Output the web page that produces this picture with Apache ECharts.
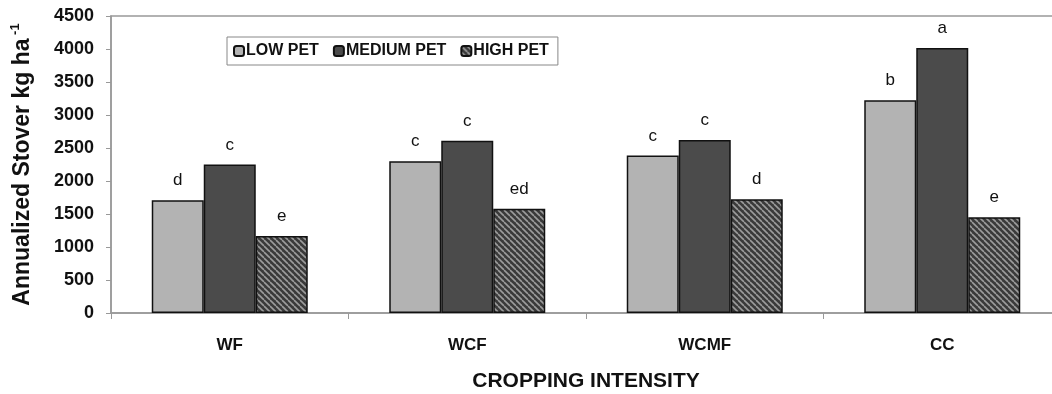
<!DOCTYPE html>
<html><head><meta charset="utf-8">
<script src="https://cdn.jsdelivr.net/npm/echarts@6/dist/echarts.min.js"></script>
<style>html,body{margin:0;padding:0;background:#fff}#c{width:1052px;height:394px}</style>
</head><body><div id="c"></div>
<script>
var categories = ['WF', 'WCF', 'WCMF', 'CC'];
var seriesNames = ['LOW PET', 'MEDIUM PET', 'HIGH PET'];
var lowPet = [1710, 2300, 2385, 3225];
var mediumPet = [2250, 2610, 2620, 4015];
var highPet = [1165, 1580, 1725, 1450];
var lowLetters = ['d', 'c', 'c', 'b'];
var mediumLetters = ['c', 'c', 'c', 'a'];
var highLetters = ['e', 'ed', 'd', 'e'];
var yTicks = [0, 500, 1000, 1500, 2000, 2500, 3000, 3500, 4000, 4500];

function hatch() {
  var s = 6, c = document.createElement('canvas');
  c.width = s; c.height = s;
  var g = c.getContext('2d');
  g.fillStyle = '#3a3a3a'; g.fillRect(0, 0, s, s);
  g.strokeStyle = '#9c9c9c'; g.lineWidth = 1.6;
  for (var k = -1; k <= 1; k++) { g.beginPath(); g.moveTo(k * s, 0); g.lineTo(k * s + s, s); g.stroke(); }
  return c;
}
var FONT = 'Liberation Sans, Arial, sans-serif';
function mk(name, data, letters, color) {
  return {
    name: name, type: 'bar', data: data, barWidth: 52, barGap: '0%',
    itemStyle: { color: color, borderColor: '#111', borderWidth: 1.5 },
    label: { show: true, position: 'top', distance: 11, fontFamily: FONT, fontSize: 17, color: '#111',
      formatter: function (p) { return letters[p.dataIndex]; } }
  };
}
var chart = echarts.init(document.getElementById('c'));
chart.setOption({
  animation: false,
  grid: { left: 111, right: -9, top: 16, bottom: 81, show: true, borderColor: '#999', borderWidth: 1.5,
    outerBoundsMode: 'none', containLabel: false },
  legend: {
    left: 227, top: 37, padding: [6, 9, 6, 6], itemGap: 14, itemWidth: 10, itemHeight: 10,
    borderColor: '#888', borderWidth: 1,
    textStyle: { fontFamily: FONT, fontWeight: 'bold', fontSize: 16, color: '#111', padding: [0, 0, 0, -3] },
    data: seriesNames
  },
  xAxis: {
    type: 'category', data: categories,
    axisLine: { lineStyle: { color: '#999', width: 1.5 } },
    axisTick: { show: true, length: 6, lineStyle: { color: '#999' } },
    axisLabel: { margin: 24, fontFamily: FONT, fontWeight: 'bold', fontSize: 17, color: '#111' },
    name: 'CROPPING INTENSITY', nameLocation: 'middle', nameGap: 58,
    nameTextStyle: { fontFamily: FONT, fontWeight: 'bold', fontSize: 21, color: '#111' }
  },
  yAxis: {
    type: 'value', min: yTicks[0], max: yTicks[yTicks.length - 1], interval: yTicks[1] - yTicks[0],
    axisLine: { show: true, lineStyle: { color: '#999', width: 1.5 } },
    axisTick: { show: true, length: 5, lineStyle: { color: '#999' } },
    splitLine: { show: false },
    axisLabel: { margin: 17, fontFamily: FONT, fontWeight: 'bold', fontSize: 18, color: '#111',
      formatter: function (v) { return String(v); } },
    name: '{a|Annualized Stover kg ha}{s| -1}', nameLocation: 'middle', nameGap: 74,
    nameTextStyle: { rich: {
      a: { fontFamily: FONT, fontWeight: 'bold', fontSize: 23, color: '#111', lineHeight: 28 },
      s: { fontFamily: FONT, fontWeight: 'bold', fontSize: 13, color: '#111', verticalAlign: 'top', lineHeight: 28 }
    } }
  },
  series: [
    mk(seriesNames[0], lowPet, lowLetters, '#b3b3b3'),
    mk(seriesNames[1], mediumPet, mediumLetters, '#4b4b4b'),
    mk(seriesNames[2], highPet, highLetters, { image: hatch(), repeat: 'repeat' })
  ]
});
</script></body></html>
